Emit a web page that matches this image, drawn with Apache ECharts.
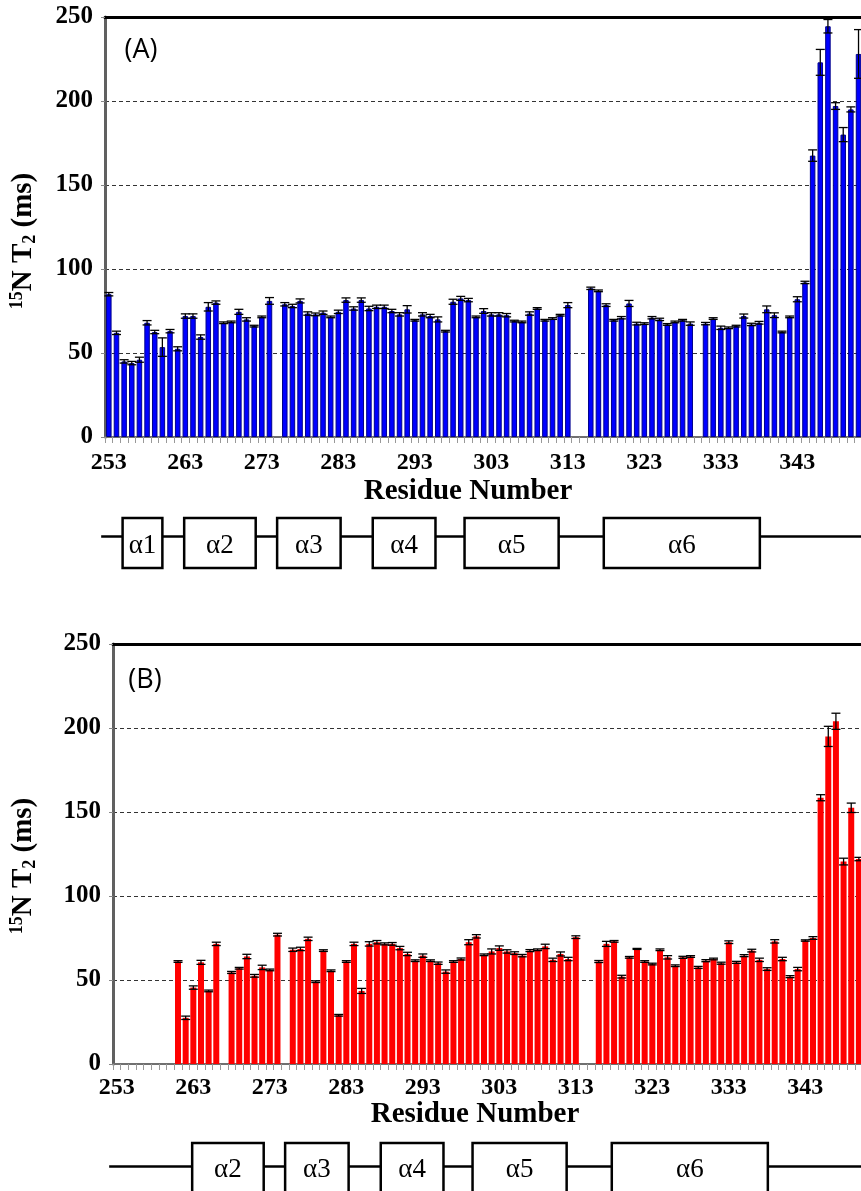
<!DOCTYPE html>
<html>
<head>
<meta charset="utf-8">
<script src="https://cdn.jsdelivr.net/npm/echarts@6/dist/echarts.min.js"></script>
<style>
html, body { margin: 0; padding: 0; overflow: hidden; background: #fff; }
#chart { width: 900px; height: 1191px; }
</style>
</head>
<body>
<div id="chart"></div>
<script>
// residue numbers on the x axis
var residues = ['253','254','255','256','257','258','259','260','261','262',
  '263','264','265','266','267','268','269','270','271','272',
  '273','274','275','276','277','278','279','280','281','282',
  '283','284','285','286','287','288','289','290','291','292',
  '293','294','295','296','297','298','299','300','301','302',
  '303','304','305','306','307','308','309','310','311','312',
  '313','314','315','316','317','318','319','320','321','322',
  '323','324','325','326','327','328','329','330','331','332',
  '333','334','335','336','337','338','339','340','341','342',
  '343','344','345','346','347','348','349','350','351','352'];

// panel A, 253..351
var t2A = [85,62,45,44,46,68,62.5,53.5,63,52.5,
  72,72,59.5,77.5,80,68,68.5,74.5,70,66,
  71.5,81,null,79,78,81,73.5,73,74,71.5,
  74.5,81.5,76.5,81.5,76.5,77.5,77.5,75,73,76,
  69.5,73,72,70,63,80.5,82.5,81.5,71.5,75,
  73,73,72.5,69,68.5,73.5,76.5,69.5,70.5,72.5,
  78.5,null,null,88.5,87,78.5,69.5,71,79.5,67.5,
  67.5,71,70,67,68.5,69.5,67.5,null,67.5,70.5,
  65,65,66,72,67,68,76,72.5,62.5,71.5,
  82,92,167.5,223,244.5,197,180,195,228];
var errA = [1,1,1,1,1.5,1.3,1,5.5,1,1.2,
  1.3,1.3,1.3,2.5,1,0.5,0.5,1.5,1,0.5,
  0.5,2,null,1,1,1.2,1,0.8,1,0.5,
  1,1.3,1,1.3,1.3,1,1,1,1,2.2,
  0.5,1,1,1.5,0.5,1.5,1.2,1,0.5,1.4,
  1,1,1,0.5,0.5,1,0.5,0.5,0.5,0.5,
  1.5,null,null,0.7,0.5,0.8,0.5,0.7,1.8,0.8,
  0.5,0.7,0.7,0.5,0.5,0.5,1,null,0.7,0.5,
  1,0.5,0.5,1.2,0.7,0.8,2,1.4,0.5,0.5,
  1.5,0.7,3.4,7.7,4,2,4.2,1.5,14.5];

// panel B, 253..350
var t2B = [null,null,null,null,null,null,null,null,61,27.5,
  45.5,60.5,43.5,71.5,null,54.5,57,64,52.5,57.5,
  56,77,null,68,68.5,74.5,49,67.5,55.5,29,
  61,71.5,43.5,71.5,72.5,71.5,71.5,69,65.5,61.5,
  64.5,61.5,60,55,61,62.5,72.5,76,65,67,
  69,67,66,64.5,67.5,68,70,62,65.5,62.5,
  75.5,null,null,61,71.5,73,52,63.5,68.5,61,
  59.5,68,63.5,58.5,63.5,64,57.5,61.5,62.5,60,
  72.5,60.5,64.5,67.5,62,56.5,73,62.5,52,56.5,
  73.5,75,158.5,195,204,120.5,152.5,122];
var errB = [null,null,null,null,null,null,null,null,0.5,1,
  1,1.2,0.5,1,null,0.6,0.5,1.3,0.8,1.3,
  0.5,0.8,null,1,1,1,0.5,0.5,0.5,0.5,
  0.5,1,1.5,1.3,1,0.6,0.8,1,1,0.5,
  1,0.5,0.7,1,0.5,0.6,1.5,1,0.5,1.5,
  1.3,1,0.8,0.7,0.6,0.5,1.3,1,1.2,1,
  0.8,null,null,0.6,1.5,0.5,0.8,0.5,0.3,0.5,
  0.5,0.5,1,0.5,0.6,0.5,0.6,0.6,0.5,0.6,
  0.8,0.6,0.6,0.8,1,0.8,1,1,0.6,1,
  0.4,0.8,1.8,6,4.8,2,2.8,1];

// helices: name, start residue, end residue (schematic)
var helixNames = ['α1','α2','α3','α4','α5','α6'];
var helixStart = [254.8,262.85,275.0,287.5,299.5,317.7];
var helixEnd   = [260.0,272.2,283.3,295.7,311.8,338.1];

var yTicks = [0, 250, 50];
var SERIF = '"Liberation Serif", "Times New Roman", serif';

function errData(vals, errs) {
  var out = [];
  for (var i = 0; i < vals.length; i++) {
    if (vals[i] != null) out.push([i, vals[i], errs[i]]);
  }
  return out;
}

function errorItem(params, api) {
  var v = api.value(1), e = api.value(2);
  var hi = api.coord([api.value(0), v + e]);
  var lo = api.coord([api.value(0), v - e]);
  var h = 4.5;
  var st = { stroke: '#000', lineWidth: 1.3 };
  return { type: 'group', children: [
    { type: 'line', shape: { x1: hi[0], y1: hi[1], x2: lo[0], y2: lo[1] }, style: st },
    { type: 'line', shape: { x1: hi[0] - h, y1: hi[1], x2: hi[0] + h, y2: hi[1] }, style: st },
    { type: 'line', shape: { x1: lo[0] - h, y1: lo[1], x2: lo[0] + h, y2: lo[1] }, style: st }
  ]};
}

function bottomAxis(g, margin) {
  return {
    type: 'category', gridIndex: g, data: residues,
    axisLine: { lineStyle: { color: '#707070', width: 2 } },
    axisTick: { show: true, interval: 0, length: 6, lineStyle: { color: '#999' } },
    axisLabel: { interval: 9, margin: margin, color: '#000', fontFamily: SERIF,
      fontWeight: 'bold', fontSize: 24 },
    splitLine: { show: false }
  };
}
function topAxis(g) {
  return {
    type: 'category', gridIndex: g, data: residues, position: 'top',
    axisLine: { lineStyle: { color: '#000', width: 3 } },
    axisTick: { show: false }, axisLabel: { show: false }
  };
}
function leftAxis(g) {
  return {
    type: 'value', gridIndex: g, min: yTicks[0], max: yTicks[1], interval: yTicks[2],
    axisLine: { show: true, lineStyle: { color: '#606060', width: 3 } },
    axisTick: { show: true, length: 4, lineStyle: { color: '#888' } },
    axisLabel: { margin: 12, color: '#000', fontFamily: SERIF, fontWeight: 'bold', fontSize: 25 },
    splitLine: { show: true, lineStyle: { color: '#333', width: 1, type: [4, 3] } }
  };
}

var chart = echarts.init(document.getElementById('chart'));
chart.setOption({
  animation: false,
  grid: [
    { left: 105, top: 17, width: 765, height: 420 },
    { left: 113, top: 644, width: 765, height: 420 }
  ],
  xAxis: [bottomAxis(0, 14), topAxis(0), bottomAxis(1, 12), topAxis(1)],
  yAxis: [leftAxis(0), leftAxis(1)],
  series: [
    { type: 'bar', xAxisIndex: 0, yAxisIndex: 0, data: t2A, barWidth: 5.5,
      itemStyle: { color: '#0000ff', borderColor: '#00008b', borderWidth: 1 } },
    { type: 'custom', xAxisIndex: 0, yAxisIndex: 0, data: errData(t2A, errA),
      renderItem: errorItem, z: 5 },
    { type: 'bar', xAxisIndex: 2, yAxisIndex: 1, data: t2B, barWidth: 6,
      itemStyle: { color: '#ff0000' } },
    { type: 'custom', xAxisIndex: 2, yAxisIndex: 1, data: errData(t2B, errB),
      renderItem: errorItem, z: 5 }
  ]
});

function resX(axisIdx, r) {
  var p0 = chart.convertToPixel({ xAxisIndex: axisIdx }, 0);
  var p1 = chart.convertToPixel({ xAxisIndex: axisIdx }, 1);
  return p0 + (r - 253) * (p1 - p0);
}

function txt(x, y, text, font) {
  return { type: 'text', x: x, y: y, z: 10,
    style: { text: text, font: font, fill: '#000', align: 'center', verticalAlign: 'middle',
      textAlign: 'center', textVerticalAlign: 'middle' } };
}

function yTitle(x, y) {
  var base = { fontFamily: SERIF, fontWeight: 'bold', fill: '#000' };
  return { type: 'text', x: x, y: y, rotation: Math.PI / 2, z: 10,
    style: { text: '{sup|15}{n|N T}{sub|2}{n| (ms)}', align: 'center', verticalAlign: 'middle',
      textAlign: 'center', textVerticalAlign: 'middle',
      rich: {
        n: Object.assign({ fontSize: 29 }, base),
        sup: Object.assign({ fontSize: 18, padding: [0, 0, 13, 0] }, base),
        sub: Object.assign({ fontSize: 18, padding: [13, 0, 0, 0] }, base)
      } } };
}

function helixDiagram(axisIdx, lineY, boxTop, boxH, textY, first) {
  var els = [];
  els.push({ type: 'line', z: 1, shape: { x1: resX(axisIdx, 252), y1: lineY, x2: 900, y2: lineY },
    style: { stroke: '#000', lineWidth: 2.5 } });
  for (var i = first; i < helixNames.length; i++) {
    var x0 = resX(axisIdx, helixStart[i]), x1 = resX(axisIdx, helixEnd[i]);
    els.push({ type: 'rect', z: 2, shape: { x: x0, y: boxTop, width: x1 - x0, height: boxH },
      style: { fill: '#fff', stroke: '#000', lineWidth: 2.5 } });
    els.push(txt((x0 + x1) / 2, textY, helixNames[i], '27px ' + SERIF));
  }
  return els;
}

var g = [];
g.push(txt(141, 50, '(A)', '27px "Open Sans", sans-serif'));
g.push(txt(145, 680, '(B)', '27px "Open Sans", sans-serif'));
g.push(yTitle(24, 241));
g.push(yTitle(24, 866));
g.push(txt(468, 492, 'Residue Number', 'bold 29px ' + SERIF));
g.push(txt(475, 1115, 'Residue Number', 'bold 29px ' + SERIF));
g = g.concat(helixDiagram(0, 536.5, 518, 50, 546, 0));
g = g.concat(helixDiagram(2, 1166.5, 1143, 52, 1170, 1));
chart.setOption({ graphic: g });
</script>
</body>
</html>
